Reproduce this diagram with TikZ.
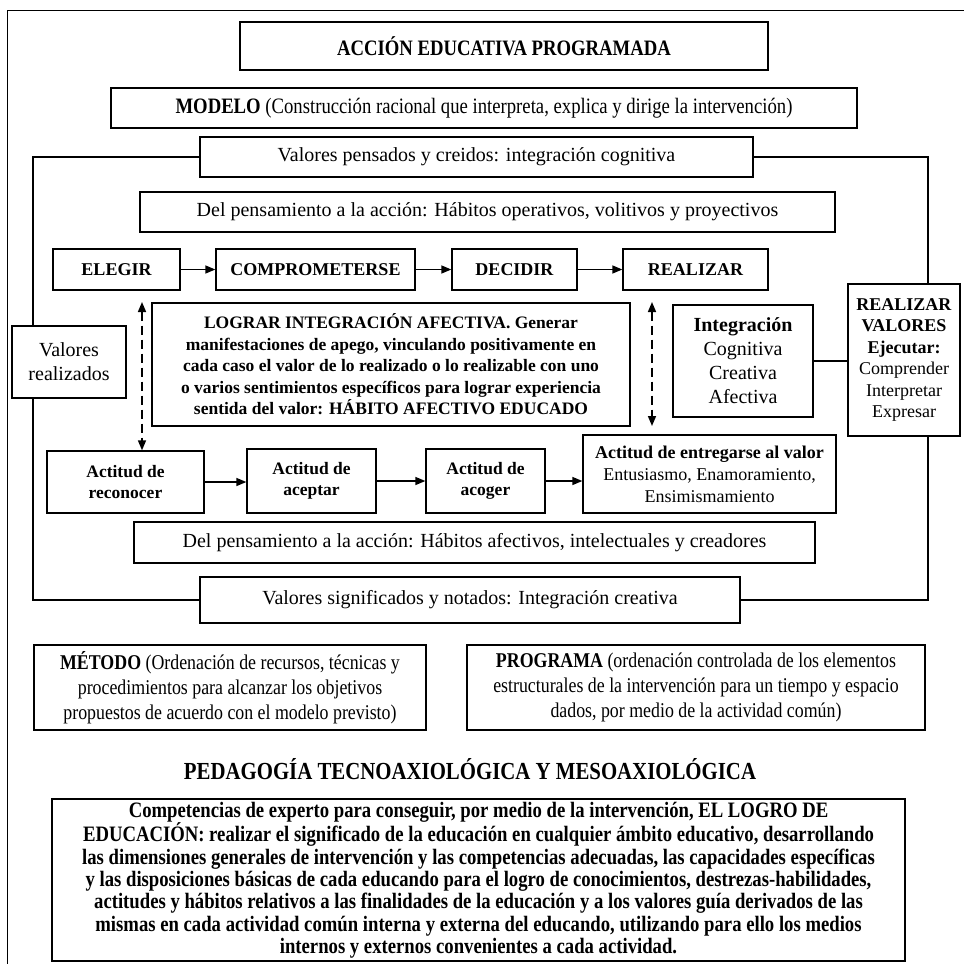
\documentclass[tikz,border=0pt]{standalone}
\usepackage{fontspec}
\setmainfont{Liberation Serif}
\newfontfamily\condfont[FakeStretch=0.85]{Liberation Serif}
\usetikzlibrary{arrows.meta}

\tikzstyle{box}=[rectangle,draw,fill=white,line width=1.3pt,inner sep=0pt,
align=center,font=\fontsize{20}{24}\selectfont]
\tikzstyle{heavybox}=[box,line width=2.8pt]
\tikzstyle{stage}=[box,minimum height=41pt,font=\bfseries\fontsize{18}{22}\selectfont]
\tikzstyle{attitude}=[box,font=\bfseries\fontsize{17.5}{21}\selectfont]
\tikzstyle{condbox}=[box,font=\condfont\fontsize{21}{25}\selectfont]
\tikzstyle{line}=[draw,line width=2.8pt]
\tikzstyle{arrow}=[draw,line width=1.4pt,-{Triangle[length=10pt,width=8pt]}]
\tikzstyle{dasharrow}=[draw,line width=1.6pt,dash pattern=on 9pt off 5pt,
{Triangle[length=10pt,width=8pt]}-{Triangle[length=10pt,width=8pt]}]

\begin{document}
\begin{tikzpicture}[x=1pt,y=-1pt]
\useasboundingbox (0,0) rectangle (964,964);
\draw [line width=1pt] (964,10) -- (7,10) -- (7,964);

% cabecera
\node [condbox,font=\condfont\bfseries\fontsize{22}{26}\selectfont,minimum width=528pt,minimum height=48pt] (title) at (504,46) {ACCIÓN EDUCATIVA PROGRAMADA};
\node [condbox,font=\condfont\fontsize{22}{26}\selectfont,minimum width=746pt,minimum height=40pt] (modelo) at (484,108) {\textbf{MODELO} (Construcción racional que interpreta, explica y dirige la intervención)};

% modelo
\node [box,minimum width=553pt,minimum height=40pt] (pensados) at (476.5,157) {Valores pensados y creidos: integración cognitiva};
\node [box,minimum width=695pt,minimum height=40pt] (volitivos) at (487.5,212) {Del pensamiento a la acción: Hábitos operativos, volitivos y proyectivos};
\node [stage,minimum width=127pt] (elegir) at (116.5,269.5) {ELEGIR};
\node [stage,minimum width=199pt] (comprometer) at (315.5,269.5) {COMPROMETERSE};
\node [stage,minimum width=125pt] (decidir) at (514.5,269.5) {DECIDIR};
\node [stage,minimum width=145pt] (realizar) at (695.5,269.5) {REALIZAR};
\node [box,minimum width=114pt,minimum height=72pt] (valreal) at (69,362) {Valores\\realizados};
\node [box,minimum width=478pt,minimum height=123pt,font=\bfseries\fontsize{17.5}{21.5}\selectfont] (lograr) at (391,364.5) {LOGRAR INTEGRACIÓN AFECTIVA. Generar\\manifestaciones de apego, vinculando positivamente en\\cada caso el valor de lo realizado o lo realizable con uno\\o varios sentimientos específicos para lograr experiencia\\sentida del valor: HÁBITO AFECTIVO EDUCADO};
\node [heavybox,minimum width=140pt,minimum height=112pt] (integracion) at (743,361) {\textbf{Integración}\\Cognitiva\\Creativa\\Afectiva};
\node [heavybox,minimum width=112pt,minimum height=152pt,font=\fontsize{18}{21.5}\selectfont] (realval) at (904,360) {\textbf{REALIZAR}\\\textbf{VALORES}\\\textbf{Ejecutar:}\\Comprender\\Interpretar\\Expresar};
\node [attitude,minimum width=157pt,minimum height=62pt] (reconocer) at (125.5,482) {Actitud de\\reconocer};
\node [attitude,minimum width=129pt,minimum height=64pt] (aceptar) at (311.5,481) {Actitud de\\aceptar};
\node [attitude,minimum width=119pt,minimum height=64pt] (acoger) at (485.5,481) {Actitud de\\acoger};
\node [box,minimum width=253pt,minimum height=78pt,font=\fontsize{18}{22}\selectfont] (entregarse) at (709.5,474) {\textbf{Actitud de entregarse al valor}\\Entusiasmo, Enamoramiento,\\Ensimismamiento};
\node [box,minimum width=681pt,minimum height=41pt] (afectivos) at (474.5,542.5) {Del pensamiento a la acción: Hábitos afectivos, intelectuales y creadores};
\node [box,minimum width=540pt,minimum height=46pt] (significados) at (470,600) {Valores significados y notados: Integración creativa};

% metodo, programa
\node [condbox,minimum width=392pt,minimum height=85pt] (metodo) at (230,687.5) {\textbf{MÉTODO} (Ordenación de recursos, técnicas y\\procedimientos para alcanzar los objetivos\\propuestos de acuerdo con el modelo previsto)};
\node [condbox,minimum width=458pt,minimum height=85pt] (programa) at (696,687.5) {\textbf{PROGRAMA} (ordenación controlada de los elementos\\estructurales de la intervención para un tiempo y espacio\\dados, por medio de la actividad común)};
\node [font=\condfont\bfseries\fontsize{24.5}{28}\selectfont,inner sep=0pt] (pedagogia) at (470,769) {PEDAGOGÍA TECNOAXIOLÓGICA Y MESOAXIOLÓGICA};
\node [condbox,minimum width=853pt,minimum height=162pt,font=\condfont\bfseries\fontsize{22}{22.3}\selectfont] (competencias) at (478.5,880) {Competencias de experto para conseguir, por medio de la intervención, EL LOGRO DE\\EDUCACIÓN: realizar el significado de la educación en cualquier ámbito educativo, desarrollando\\las dimensiones generales de intervención y las competencias adecuadas, las capacidades específicas\\y las disposiciones básicas de cada educando para el logro de conocimientos, destrezas-habilidades,\\actitudes y hábitos relativos a las finalidades de la educación y a los valores guía derivados de las\\mismas en cada actividad común interna y externa del educando, utilizando para ello los medios\\internos y externos convenientes a cada actividad.};

% ciclo
\coordinate (tl) at (33,157);
\coordinate (bl) at (33,600);
\coordinate (tr) at (928,157);
\coordinate (br) at (928,600);
\path [line] (pensados.west) -- (tl) -- (tl |- valreal.north);
\path [line] (tl |- valreal.south) -- (bl) -- (significados.west);
\path [line] (pensados.east) -- (tr) -- (tr |- realval.north);
\path [line] (tr |- realval.south) -- (br) -- (significados.east);
\path [line] (integracion.east) -- (integracion.east -| realval.west);

% flechas
\path [arrow] (elegir) -- (comprometer);
\path [arrow] (comprometer) -- (decidir);
\path [arrow] (decidir) -- (realizar);
\path [arrow] (reconocer.east) -- (reconocer.east -| aceptar.west);
\path [arrow] (aceptar.east) -- (aceptar.east -| acoger.west);
\path [arrow] (acoger.east) -- (acoger.east -| entregarse.west);
\coordinate (dashtop) at (142,302);
\coordinate (dashtop2) at (652,302);
\coordinate (dashbot2) at (652,426);
\path [dasharrow] (dashtop) -- (dashtop |- reconocer.north);
\path [dasharrow] (dashtop2) -- (dashbot2);
\end{tikzpicture}
\end{document}
